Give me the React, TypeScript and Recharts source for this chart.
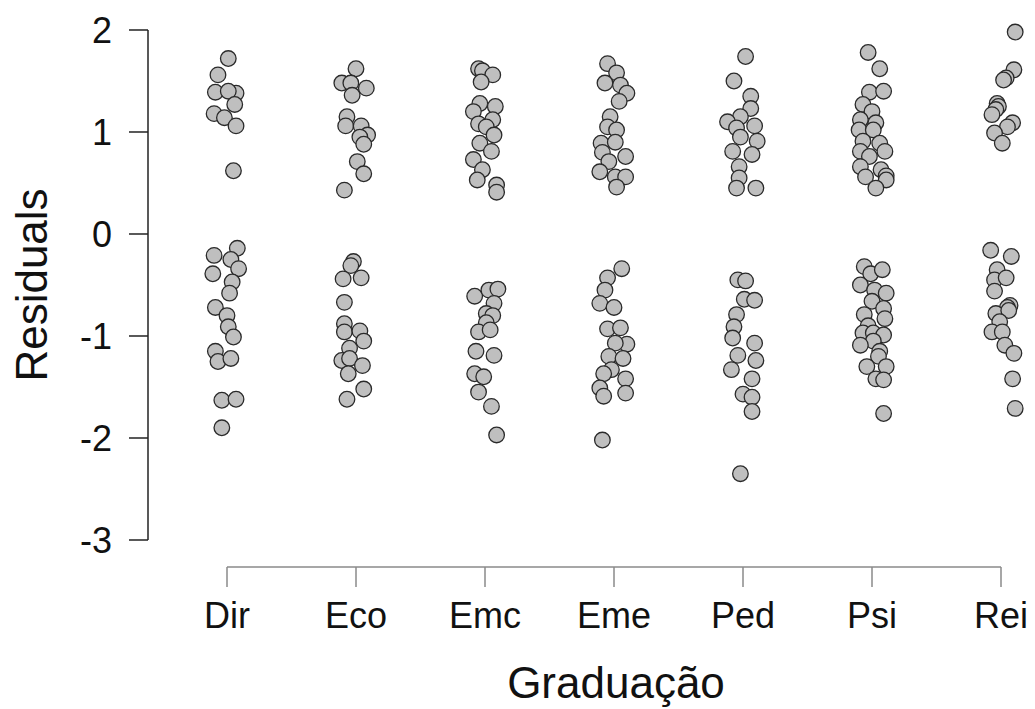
import React from 'react';
import {
    ScatterChart,
    Scatter,
    XAxis,
    YAxis,
    ReferenceLine
} from 'recharts';

// course codes on the x axis
const categories = ['Dir', 'Eco', 'Emc', 'Eme', 'Ped', 'Psi', 'Rei'];
const yTicks = [-3, -2, -1, 0, 1, 2];

// [horizontal jitter (in category units), residual]
const dir: [number, number][] = [
    [0.01, 1.72], [-0.07, 1.56], [-0.09, 1.39], [0.07, 1.38], [0.01, 1.40], [0.06, 1.27],
    [-0.10, 1.18], [-0.02, 1.14], [0.07, 1.06], [0.05, 0.62],
    [0.08, -0.14], [-0.10, -0.21], [0.03, -0.25], [0.09, -0.34], [-0.11, -0.39], [0.04, -0.47],
    [0.02, -0.58], [-0.09, -0.72], [0.00, -0.80], [0.01, -0.91], [0.05, -1.01], [-0.09, -1.15],
    [-0.07, -1.25], [0.03, -1.22], [-0.04, -1.63], [0.07, -1.62], [-0.04, -1.90]
];
const eco: [number, number][] = [
    [0.00, 1.62], [-0.11, 1.48], [-0.04, 1.48], [0.08, 1.43], [-0.03, 1.36], [-0.07, 1.15],
    [-0.08, 1.06], [0.04, 1.06], [0.09, 0.97], [0.03, 0.95], [0.06, 0.88], [0.01, 0.71],
    [0.06, 0.59], [-0.09, 0.43],
    [-0.02, -0.27], [-0.04, -0.31], [-0.10, -0.44], [0.04, -0.43], [-0.09, -0.67], [-0.09, -0.88],
    [-0.09, -0.96], [0.03, -0.95], [0.06, -1.05], [-0.05, -1.12], [-0.11, -1.24], [-0.05, -1.22],
    [0.05, -1.29], [-0.06, -1.37], [0.06, -1.52], [-0.07, -1.62]
];
const emc: [number, number][] = [
    [-0.05, 1.62], [-0.02, 1.60], [0.06, 1.56], [-0.03, 1.49], [-0.04, 1.28], [0.08, 1.25],
    [-0.09, 1.20], [0.06, 1.12], [-0.05, 1.08], [0.01, 1.05], [0.07, 0.97], [-0.04, 0.89],
    [0.05, 0.81], [-0.09, 0.73], [-0.02, 0.63], [-0.06, 0.53], [0.09, 0.48], [0.09, 0.41],
    [-0.08, -0.61], [0.03, -0.55], [0.10, -0.54], [0.07, -0.68], [0.01, -0.78], [0.06, -0.80],
    [0.01, -0.87], [-0.05, -0.96], [0.04, -0.94], [-0.07, -1.15], [0.07, -1.19], [-0.08, -1.37],
    [-0.01, -1.40], [-0.05, -1.55], [0.05, -1.69], [0.09, -1.97]
];
const eme: [number, number][] = [
    [-0.05, 1.67], [0.02, 1.58], [-0.07, 1.48], [0.05, 1.46], [0.10, 1.38], [0.04, 1.30],
    [-0.03, 1.15], [-0.05, 1.05], [0.02, 1.02], [-0.10, 0.89], [0.01, 0.90], [0.09, 0.76],
    [-0.09, 0.80], [-0.04, 0.71], [-0.11, 0.61], [0.01, 0.56], [0.09, 0.56], [0.02, 0.46],
    [0.06, -0.34], [-0.05, -0.43], [-0.07, -0.55], [-0.11, -0.68], [0.00, -0.72], [-0.05, -0.93],
    [0.05, -0.92], [0.10, -1.08], [0.01, -1.07], [-0.04, -1.20], [0.07, -1.22], [-0.02, -1.33],
    [-0.08, -1.37], [-0.11, -1.51], [0.09, -1.42], [0.09, -1.56], [-0.08, -1.59], [-0.09, -2.02]
];
const ped: [number, number][] = [
    [0.02, 1.74], [-0.07, 1.50], [0.06, 1.35], [0.06, 1.23], [-0.02, 1.15], [-0.12, 1.10],
    [0.09, 1.06], [-0.05, 1.04], [-0.02, 0.95], [0.11, 0.91], [-0.08, 0.81], [0.07, 0.78],
    [-0.03, 0.66], [-0.03, 0.55], [-0.05, 0.45], [0.10, 0.45],
    [-0.04, -0.45], [0.02, -0.46], [0.01, -0.64], [0.09, -0.65], [-0.05, -0.79], [-0.07, -0.91],
    [-0.08, -1.02], [0.09, -1.07], [-0.04, -1.19], [0.10, -1.24], [-0.09, -1.33], [0.07, -1.42],
    [0.00, -1.57], [0.07, -1.60], [0.07, -1.74], [-0.02, -2.35]
];
const psi: [number, number][] = [
    [-0.03, 1.78], [0.06, 1.62], [-0.02, 1.39], [0.09, 1.40], [-0.07, 1.27], [0.00, 1.20],
    [-0.09, 1.12], [0.03, 1.09], [-0.10, 1.02], [0.01, 1.02], [-0.07, 0.91], [0.06, 0.89],
    [-0.09, 0.81], [0.10, 0.81], [-0.02, 0.76], [-0.09, 0.66], [0.07, 0.63], [-0.05, 0.56],
    [0.11, 0.57], [0.11, 0.53], [0.03, 0.45],
    [-0.06, -0.32], [-0.01, -0.39], [0.08, -0.35], [-0.09, -0.50], [0.02, -0.55], [0.11, -0.58],
    [0.00, -0.66], [-0.06, -0.79], [0.09, -0.73], [0.10, -0.83], [-0.03, -0.90], [-0.07, -0.97],
    [0.01, -0.97], [0.09, -0.99], [0.01, -1.05], [-0.09, -1.09], [0.06, -1.15], [0.05, -1.20],
    [-0.04, -1.30], [0.11, -1.30], [0.03, -1.42], [0.09, -1.43], [0.09, -1.76]
];
const rei: [number, number][] = [
    [0.11, 1.98], [0.10, 1.61], [0.04, 1.53], [0.02, 1.51], [-0.03, 1.28], [-0.02, 1.25],
    [-0.04, 1.22], [-0.07, 1.17], [0.09, 1.09], [0.05, 1.05], [-0.05, 0.99], [0.01, 0.89],
    [-0.08, -0.16], [0.08, -0.22], [-0.03, -0.35], [-0.05, -0.45], [0.04, -0.43], [-0.05, -0.56],
    [0.07, -0.70], [0.05, -0.72], [-0.04, -0.78], [0.06, -0.75], [-0.01, -0.86], [-0.07, -0.96],
    [0.01, -0.96], [0.03, -1.09], [0.10, -1.17], [0.09, -1.42], [0.11, -1.71]
];

const groups = [dir, eco, emc, eme, ped, psi, rei];

const points = groups.flatMap((g, i) => g.map(([dx, y]) => ({ x: i + dx, y })));

// axis ranges picked so the R-style detached axes land where they do in the original
const X_MIN = -0.6124;
const X_MAX = 6.2248;
const Y_MIN = -3.2647;
const Y_MAX = 2.1176;

const font = '"Liberation Sans", Arial, sans-serif';

const Dot = (props: any) => (
    <circle
        cx={props.cx}
        cy={props.cy}
        r={7.8}
        fill="#bfbfbf"
        stroke="#2a2a2a"
        strokeWidth={1.3}
    />
);

const App: React.FC = () => {
    return (
        <div style={{ position: 'absolute', left: 0, top: 0, width: 1035, height: 709, background: '#fff' }}>
            <ScatterChart
                width={1035}
                height={709}
                margin={{ top: 18, right: 5, bottom: 62, left: 48 }}
            >
                <XAxis
                    type="number"
                    dataKey="x"
                    domain={[X_MIN, X_MAX]}
                    ticks={[0, 1, 2, 3, 4, 5, 6]}
                    tickFormatter={(v: number) => categories[Math.round(v)]}
                    axisLine={false}
                    tickLine={{ stroke: '#8a8a8a', strokeWidth: 1.5 }}
                    tickSize={20}
                    tickMargin={15}
                    height={80}
                    interval={0}
                    tick={{ fill: '#111', fontSize: 36, fontFamily: font }}
                />
                <YAxis
                    type="number"
                    dataKey="y"
                    domain={[Y_MIN, Y_MAX]}
                    ticks={yTicks}
                    axisLine={false}
                    tickLine={{ stroke: '#222', strokeWidth: 1.5 }}
                    tickSize={19}
                    tickMargin={17}
                    width={100}
                    interval={0}
                    tick={{ fill: '#111', fontSize: 36, fontFamily: font }}
                />
                <ReferenceLine
                    segment={[{ x: X_MIN, y: -3 }, { x: X_MIN, y: 2 }]}
                    stroke="#222"
                    strokeWidth={1.5}
                    ifOverflow="visible"
                />
                <ReferenceLine
                    segment={[{ x: 0, y: Y_MIN }, { x: 6, y: Y_MIN }]}
                    stroke="#8a8a8a"
                    strokeWidth={1.5}
                    ifOverflow="visible"
                />
                <Scatter data={points} shape={Dot} isAnimationActive={false} />
            </ScatterChart>
            <svg
                width={1035}
                height={709}
                style={{ position: 'absolute', left: 0, top: 0, pointerEvents: 'none' }}
            >
                <text
                    x={616}
                    y={698}
                    textAnchor="middle"
                    fontSize={44}
                    fontFamily={font}
                    fill="#111"
                >
                    Graduação
                </text>
                <text
                    transform="translate(47, 285) rotate(-90)"
                    textAnchor="middle"
                    fontSize={44}
                    fontFamily={font}
                    fill="#111"
                >
                    Residuals
                </text>
            </svg>
        </div>
    );
};

export default App;
